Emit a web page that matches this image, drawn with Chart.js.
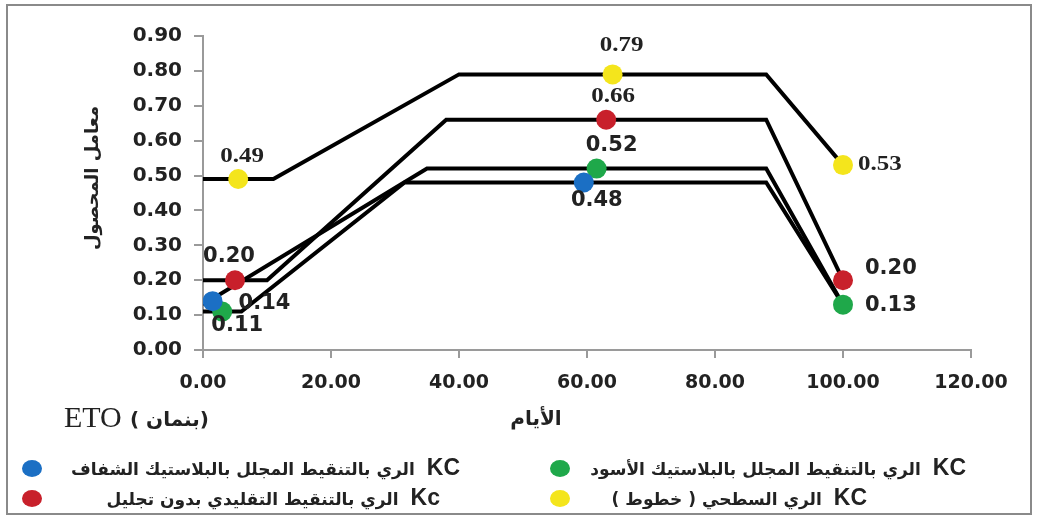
<!DOCTYPE html>
<html>
<head>
<meta charset="utf-8">
<script src="https://cdn.jsdelivr.net/npm/chart.js"></script>
<style>
    body { margin: 0; background: #fff; }
    #wrap { position: relative; width: 1041px; height: 519px; overflow: hidden; }
    #frame { position: absolute; left: 6px; top: 4px; width: 1026px; height: 511px; border: 2px solid #8a8a8a; box-sizing: border-box; }
    canvas { position: absolute; left: 0; top: 0; }
    .lg { position: absolute; font-family: "DejaVu Sans", sans-serif; font-weight: bold; font-size: 17px; color: #222; white-space: nowrap; direction: rtl; line-height: 22px; }
    .lg b { display: inline-block; font-family: "Liberation Sans", Arial, sans-serif; font-size: 23px; font-weight: bold; margin-left: 12px; direction: ltr; }
    .dot { position: absolute; width: 20px; height: 17px; border-radius: 50%; }
</style>
</head>
<body>
<div id="wrap">
    <div id="frame"></div>
    <canvas id="kcChart" width="1041" height="519"></canvas>
    <div id="legend"></div>
</div>
<script>
// axis
const xTicks = [0, 20, 40, 60, 80, 100, 120];
const yTicks = [0, 0.1, 0.2, 0.3, 0.4, 0.5, 0.6, 0.7, 0.8, 0.9];

// black stage lines (days, Kc)
const surfaceLineX = [0, 11, 40, 88, 100];
const surfaceLineY = [0.49, 0.49, 0.79, 0.79, 0.53];
const bareLineX = [0, 10, 38, 88, 100];
const bareLineY = [0.20, 0.20, 0.66, 0.66, 0.20];
const clearLineX = [0, 35, 88, 100];
const clearLineY = [0.13, 0.52, 0.52, 0.13];
const blackLineX = [0, 6, 31.5, 88, 100];
const blackLineY = [0.11, 0.11, 0.48, 0.48, 0.13];

// coloured Kc points
const clearPtsX = [1.5, 59.5];
const clearPtsY = [0.14, 0.48];
const blackPtsX = [3, 61.5, 100];
const blackPtsY = [0.11, 0.52, 0.13];
const barePtsX = [5, 63, 100];
const barePtsY = [0.20, 0.66, 0.20];
const surfacePtsX = [5.5, 64, 100];
const surfacePtsY = [0.49, 0.79, 0.53];

const legendNames = [
    "KC الري بالتنقيط المجلل بالبلاستيك الشفاف",
    "KC الري بالتنقيط المجلل بالبلاستيك الأسود",
    "Kc الري بالتنقيط التقليدي بدون تجليل",
    "KC الري السطحي ( خطوط )"
];

const BLUE = "#1b6fc4", GREEN = "#1fa84a", RED = "#c8202b", YELLOW = "#f4e51c";

const SANS = { font: "bold 21px 'DejaVu Sans', sans-serif", sx: 1 };
const SERIF = { font: "bold 20px 'Liberation Serif', 'Times New Roman', serif", sx: 1.25 };

// label placement for each point: [dx, dy, align, style]
const clearLabelPos = [[26, 2, "left", SANS], [13, 18, "center", SANS]];
const blackLabelPos = [[15, 14, "center", SANS], [15, -23, "center", SANS], [22, 1, "left", SANS]];
const bareLabelPos = [[-6, -24, "center", SANS], [7, -23, "center", SERIF], [22, -12, "left", SANS]];
const surfaceLabelPos = [[4, -22, "center", SERIF], [9, -29, "center", SERIF], [15, 0, "left", SERIF]];

function pts(xs, ys) {
    return xs.map((x, i) => ({ x: x, y: ys[i] }));
}

function lineSet(xs, ys) {
    return {
        type: "line",
        data: pts(xs, ys),
        borderColor: "#000",
        borderWidth: 4,
        pointRadius: 0,
        fill: false,
        tension: 0,
        order: 2,
    };
}

function pointSet(xs, ys, color, labelPos) {
    return {
        type: "scatter",
        data: pts(xs, ys),
        backgroundColor: color,
        borderColor: color,
        borderWidth: 0,
        pointRadius: 10,
        order: 1,
        labelPos: labelPos,
    };
}

const pointLabels = {
    id: "pointLabels",
    afterDatasetsDraw(chart) {
        const ctx = chart.ctx;
        chart.data.datasets.forEach((ds, i) => {
            if (!ds.labelPos) return;
            const meta = chart.getDatasetMeta(i);
            meta.data.forEach((el, j) => {
                const [dx, dy, align, st] = ds.labelPos[j];
                ctx.save();
                ctx.fillStyle = "#222";
                ctx.textBaseline = "middle";
                ctx.font = st.font;
                ctx.textAlign = align;
                ctx.translate(el.x + dx, el.y + dy);
                ctx.scale(st.sx, 1);
                ctx.fillText(ds.data[j].y.toFixed(2), 0, 0);
                ctx.restore();
            });
        });
    }
};

const axisTexts = {
    id: "axisTexts",
    afterDraw(chart) {
        const ctx = chart.ctx;
        ctx.save();
        ctx.fillStyle = "#222";
        ctx.textBaseline = "middle";
        ctx.textAlign = "center";

        ctx.save();
        ctx.translate(93, 178);
        ctx.rotate(-Math.PI / 2);
        ctx.font = "bold 18px 'DejaVu Sans', sans-serif";
        ctx.fillText("معامل المحصول", 0, 0);
        ctx.restore();

        ctx.font = "bold 20px 'DejaVu Sans', sans-serif";
        ctx.fillText("الأيام", 536, 420);

        ctx.textAlign = "left";
        ctx.font = "30px 'Liberation Serif', 'Times New Roman', serif";
        ctx.fillText("ETO", 64, 419);
        ctx.font = "bold 20px 'DejaVu Sans', sans-serif";
        ctx.fillText("( بنمان)", 130, 421);
        ctx.restore();
    }
};

new Chart(document.getElementById("kcChart"), {
    data: {
        datasets: [
            lineSet(surfaceLineX, surfaceLineY),
            lineSet(bareLineX, bareLineY),
            lineSet(clearLineX, clearLineY),
            lineSet(blackLineX, blackLineY),
            pointSet(surfacePtsX, surfacePtsY, YELLOW, surfaceLabelPos),
            pointSet(barePtsX, barePtsY, RED, bareLabelPos),
            pointSet(clearPtsX, clearPtsY, BLUE, clearLabelPos),
            pointSet(blackPtsX, blackPtsY, GREEN, blackLabelPos),
        ],
    },
    options: {
        responsive: false,
        animation: false,
        devicePixelRatio: 1,
        layout: { padding: { left: 0, top: 36, right: 70, bottom: 119 } },
        plugins: { legend: { display: false }, tooltip: { enabled: false } },
        scales: {
            x: {
                type: "linear",
                min: xTicks[0],
                max: xTicks[xTicks.length - 1],
                afterBuildTicks: (s) => { s.ticks = xTicks.map((v) => ({ value: v })); },
                afterFit: (s) => { s.height = 50; },
                ticks: {
                    callback: (v) => Number(v).toFixed(2),
                    font: { family: "'DejaVu Sans', sans-serif", size: 19, weight: "bold" },
                    color: "#222",
                    padding: 14,
                    maxRotation: 0,
                },
                grid: { drawOnChartArea: false, tickLength: 8, color: "#9a9a9a", lineWidth: 2 },
                border: { color: "#9a9a9a", width: 2 },
            },
            y: {
                min: yTicks[0],
                max: yTicks[yTicks.length - 1],
                afterBuildTicks: (s) => { s.ticks = yTicks.map((v) => ({ value: v })); },
                afterFit: (s) => { s.width = 203; },
                ticks: {
                    callback: (v) => Number(v).toFixed(2),
                    font: { family: "'DejaVu Sans', sans-serif", size: 20, weight: "bold" },
                    color: "#222",
                    padding: 12,
                },
                grid: { drawOnChartArea: false, tickLength: 9, color: "#9a9a9a", lineWidth: 2 },
                border: { color: "#9a9a9a", width: 2 },
            },
        },
    },
    plugins: [pointLabels, axisTexts],
});

// legend: two rows, two columns
const legendItems = [
    { name: legendNames[0], color: BLUE, dotX: 22, right: 460, y: 468 },
    { name: legendNames[1], color: GREEN, dotX: 550, right: 966, y: 468 },
    { name: legendNames[2], color: RED, dotX: 22, right: 440, y: 498 },
    { name: legendNames[3], color: YELLOW, dotX: 550, right: 867, y: 498 },
];
const legend = document.getElementById("legend");
legendItems.forEach((item) => {
    const dot = document.createElement("div");
    dot.className = "dot";
    dot.style.left = item.dotX + "px";
    dot.style.top = (item.y - 8) + "px";
    dot.style.background = item.color;
    legend.appendChild(dot);

    const txt = document.createElement("div");
    txt.className = "lg";
    txt.style.right = (1041 - item.right) + "px";
    txt.style.top = (item.y - 12) + "px";
    const kc = item.name.slice(0, 2);
    txt.innerHTML = "<b>" + kc + "</b>" + item.name.slice(3);
    legend.appendChild(txt);
});
</script>
</body>
</html>
